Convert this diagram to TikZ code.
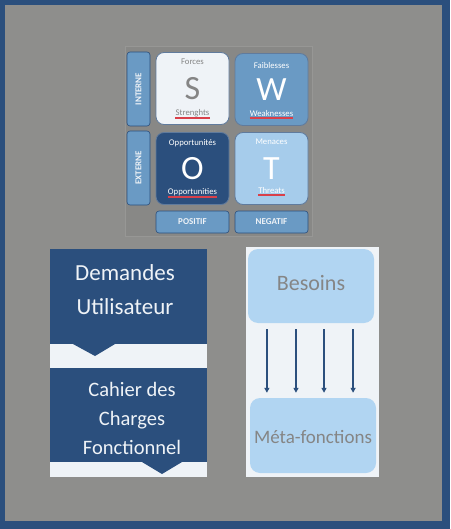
\documentclass[tikz,border=0pt]{standalone}
\usepackage{fontspec}
\setmainfont{Carlito}
\usetikzlibrary{calc,arrows.meta}
\definecolor{dblue}{HTML}{2B4F7D}
\definecolor{mblue}{HTML}{6A9AC4}
\definecolor{lblue}{HTML}{B1D5F2}
\definecolor{pale}{HTML}{EFF3F7}
\definecolor{bggrey}{HTML}{8E8E8C}
\definecolor{txtgrey}{HTML}{858585}
\definecolor{sqred}{HTML}{D9404A}
\tikzset{
  swot/.style={draw=dblue!75!white,line width=0.8pt,rounded corners=8pt,minimum width=73pt,minimum height=72pt,inner sep=0pt},
  bar/.style={draw=dblue,fill=mblue,line width=0.6pt,rounded corners=3pt,inner sep=0pt,text=pale,font=\fontsize{9}{10}\selectfont\bfseries},
  letter/.style={font=\fontsize{34}{34}\selectfont,inner sep=0pt},
  small/.style={font=\fontsize{8.7}{9}\selectfont,inner sep=0pt},
  squiggle/.style={sqred,line width=1.4pt},
  chev/.style={fill=dblue,inner sep=0pt,minimum width=157pt},
  chevtext/.style={text=pale,align=center,inner sep=0pt},
  soft/.style={fill=lblue,rounded corners=10pt,inner sep=0pt,text=txtgrey},
  arr/.style={dblue,line width=1.6pt,-{Triangle[length=5pt,width=5pt]},shorten <=6pt,shorten >=5pt}
}
\begin{document}
\begin{tikzpicture}[x=1pt,y=-1pt]
  \useasboundingbox (0,0) rectangle (450,529);
  % frame
  \fill[dblue] (0,0) rectangle (450,529);
  \fill[bggrey] (5,5) rectangle (442,521);
  % SWOT matrix
  \draw[bggrey!92!white,fill=bggrey!96!black,line width=0.4pt] (125,46) rectangle (312,236);
  \node[bar,rotate=90,minimum width=74pt,minimum height=23pt] (int) at (138.5,89) {INTERNE};
  \node[bar,rotate=90,minimum width=74pt,minimum height=23pt] (ext) at (138.5,168) {EXTERNE};
  \node[bar,minimum width=73pt,minimum height=22pt] (pos) at (192.5,222) {POSITIF};
  \node[bar,minimum width=73pt,minimum height=22pt] (neg) at (271.5,222) {NEGATIF};
  \node[swot,fill=pale] (S) at (192.5,88.5) {};
  \node[swot,fill=mblue] (W) at (271.5,89.5) {};
  \node[swot,fill=dblue] (O) at (192.5,168.5) {};
  \node[swot,fill=lblue!85!mblue] (T) at (271.5,168.5) {};
  \node[letter,text=txtgrey] (Sl) at (S) {S};
  \node[letter,text=white] (Wl) at (W) {W};
  \node[letter,text=white] (Ol) at (O) {O};
  \node[letter,text=white] (Tl) at (T) {T};
  \node[small,text=txtgrey] (Sf) at ($(S.north)+(0,10)$) {Forces};
  \node[small,text=white] (Wf) at ($(W.north)+(0,12)$) {Faiblesses};
  \node[small,text=white] (Of) at ($(O.north)+(0,11)$) {Opportunités};
  \node[small,text=white] (Tf) at ($(T.north)+(0,10)$) {Menaces};
  \node[small,text=txtgrey] (Se) at ($(S.south)+(0,-12)$) {Strenghts};
  \node[small,text=white] (We) at ($(W.south)+(0,-12)$) {Weaknesses};
  \node[small,text=white] (Oe) at ($(O.south)+(0,-13)$) {Opportunities};
  \node[small,text=white] (Te) at ($(T.south)+(0,-14)$) {Threats};
  \foreach \w in {Se,We,Oe,Te}
    \draw[squiggle] ($(\w.south west)+(0,1)$) -- ($(\w.south east)+(0,1)$);
  % chevron list
  \node[chev,minimum height=95pt] (demBox) at (128.5,296.5) {};
  \fill[pale] (demBox.south west) rectangle (207,368);
  \fill[dblue] (73,344) -- (95,356) -- (115,344) -- cycle;
  \node[chev,minimum height=94pt] (cdcBox) at (128.5,415) {};
  \fill[pale] (cdcBox.south west) rectangle (207,477);
  \fill[dblue] (142,462) -- (162,474) -- (182,462) -- cycle;
  \node[chevtext,font=\fontsize{23}{34}\selectfont] (dem) at (125,290) {Demandes\\Utilisateur};
  \node[chevtext,font=\fontsize{20.5}{29}\selectfont] (cdc) at (132,418) {Cahier des\\Charges\\Fonctionnel};
  % besoins -> meta-fonctions
  \fill[pale] (246,247) rectangle (379,477);
  \node[soft,minimum width=126pt,minimum height=74pt] (bes) at (311,286) {};
  \node[soft,minimum width=126pt,minimum height=75pt] (meta) at (313,435.5) {};
  \node[text=txtgrey,font=\fontsize{22}{22}\selectfont,inner sep=0pt] (besT) at (311,283) {Besoins};
  \node[text=txtgrey,font=\fontsize{19}{19}\selectfont,inner sep=0pt] (metaT) at (313,437) {Méta-fonctions};
  \foreach \f [count=\i] in {0.151,0.381,0.603,0.833}
    \draw[arr] ($(bes.south west)!\f!(bes.south east)$) coordinate (a\i) -- (a\i |- meta.north);
\end{tikzpicture}
\end{document}
